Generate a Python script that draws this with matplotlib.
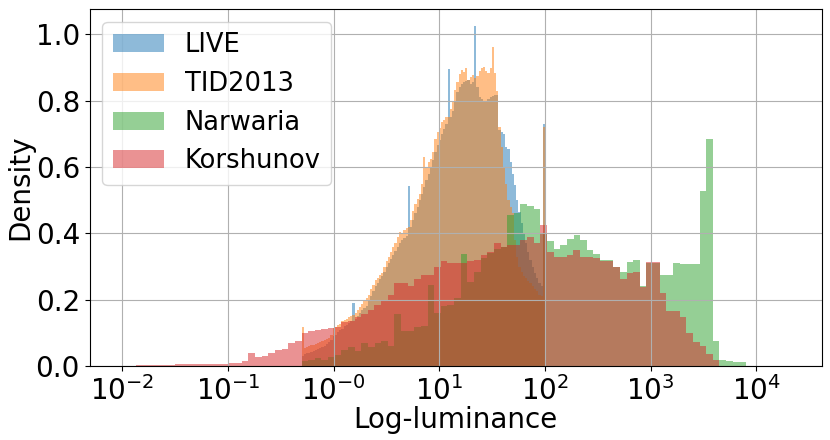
import numpy as np
import matplotlib
matplotlib.use("Agg")
import matplotlib.pyplot as plt

# log10-luminance ranges of each dataset's histogram
live_range = (-0.304, 2.0)
tid_range = (-0.304, 2.0)
nar_range = (-0.304, 3.903)
kor_range = (-2.0, 3.652)

live_density = [
    0.030, 0.035, 0.038, 0.040, 0.043, 0.045, 0.048, 0.050, 0.053, 0.058,
    0.062, 0.066, 0.072, 0.080, 0.090, 0.095, 0.102, 0.108, 0.112, 0.120,
    0.125, 0.130, 0.135, 0.190, 0.142, 0.150, 0.160, 0.168, 0.175, 0.182,
    0.195, 0.210, 0.225, 0.240, 0.250, 0.262, 0.272, 0.285, 0.298, 0.310,
    0.322, 0.335, 0.348, 0.360, 0.372, 0.380, 0.385, 0.392, 0.542, 0.420,
    0.440, 0.462, 0.480, 0.500, 0.520, 0.540, 0.560, 0.580, 0.600, 0.620,
    0.645, 0.665, 0.680, 0.700, 0.715, 0.730, 0.895, 0.750, 0.770, 0.800,
    0.825, 0.840, 0.850, 0.855, 0.860, 0.862, 0.850, 0.855, 1.026, 0.840,
    0.810, 0.805, 0.800, 0.800, 0.805, 0.810, 0.815, 0.817, 0.817, 0.711,
    0.705, 0.700, 0.660, 0.655, 0.616, 0.580, 0.545, 0.500, 0.465, 0.430,
    0.400, 0.370, 0.345, 0.320, 0.300, 0.280, 0.265, 0.250, 0.240, 0.730,
]

tid_density = [
    0.117, 0.055, 0.058, 0.060, 0.063, 0.065, 0.066, 0.070, 0.072, 0.075,
    0.078, 0.082, 0.086, 0.095, 0.115, 0.118, 0.125, 0.128, 0.135, 0.140,
    0.142, 0.148, 0.150, 0.155, 0.160, 0.168, 0.178, 0.186, 0.198, 0.205,
    0.215, 0.232, 0.245, 0.258, 0.265, 0.275, 0.282, 0.300, 0.318, 0.330,
    0.345, 0.360, 0.372, 0.390, 0.405, 0.400, 0.410, 0.415, 0.418, 0.440,
    0.468, 0.490, 0.505, 0.520, 0.548, 0.630, 0.600, 0.615, 0.625, 0.645,
    0.686, 0.705, 0.717, 0.735, 0.742, 0.750, 0.752, 0.774, 0.800, 0.832,
    0.857, 0.880, 0.893, 0.885, 0.898, 0.863, 0.870, 0.878, 0.868, 0.875,
    0.888, 0.898, 0.903, 0.890, 0.883, 0.900, 0.963, 0.883, 0.830, 0.720,
    0.660, 0.600, 0.550, 0.500, 0.480, 0.460, 0.380, 0.330, 0.300, 0.285,
    0.272, 0.265, 0.255, 0.250, 0.240, 0.232, 0.225, 0.215, 0.210, 0.720,
]

nar_density = [
    0.015, 0.019, 0.024, 0.019, 0.027, 0.032, 0.049, 0.057, 0.045, 0.070,
    0.057, 0.070, 0.077, 0.062, 0.156, 0.107, 0.107, 0.117, 0.122, 0.243,
    0.160, 0.180, 0.183, 0.204, 0.337, 0.253, 0.283, 0.325, 0.340, 0.352,
    0.360, 0.455, 0.460, 0.488, 0.482, 0.473, 0.400, 0.377, 0.354, 0.364,
    0.384, 0.396, 0.381, 0.350, 0.337, 0.321, 0.321, 0.300, 0.283, 0.313,
    0.319, 0.240, 0.310, 0.310, 0.276, 0.276, 0.310, 0.309, 0.307, 0.307,
    0.528, 0.684, 0.075, 0.019, 0.015, 0.011, 0.011,
]

kor_density = [
    0.001, 0.001, 0.002, 0.002, 0.002, 0.003,
    0.004, 0.004, 0.005, 0.006, 0.005, 0.006, 0.007, 0.006, 0.006, 0.007,
    0.008, 0.010, 0.014,
    0.040, 0.027, 0.030, 0.038, 0.047, 0.051, 0.069, 0.075,
    0.100, 0.105, 0.110, 0.112, 0.115, 0.119, 0.132, 0.135, 0.147, 0.158,
    0.170, 0.185, 0.195,
    0.213, 0.249, 0.249, 0.241, 0.261, 0.276, 0.276, 0.300, 0.317, 0.310,
    0.310, 0.310, 0.317, 0.320, 0.334,
    0.344, 0.371, 0.360, 0.364, 0.364, 0.380, 0.390, 0.370,
    0.424, 0.344, 0.330, 0.330, 0.335, 0.350, 0.330,
    0.329, 0.325, 0.317, 0.317, 0.300, 0.261, 0.280, 0.285, 0.238, 0.314,
    0.314, 0.220, 0.166, 0.166, 0.147, 0.100, 0.072, 0.062, 0.037, 0.019,
]

labels = ["LIVE", "TID2013", "Narwaria", "Korshunov"]
tick_pos = [-2, -1, 0, 1, 2, 3, 4]
tick_labels = ["$10^{-2}$", "$10^{-1}$", "$10^{-0}$", "$10^{1}$",
               "$10^{2}$", "$10^{3}$", "$10^{4}$"]

series = [(live_range, live_density), (tid_range, tid_density),
          (nar_range, nar_density), (kor_range, kor_density)]

fig = plt.figure(figsize=(8.3, 4.4), dpi=100)
ax = fig.add_axes([0.108, 0.168, 0.882, 0.812])

for (rng, dens), lab in zip(series, labels):
    edges = np.linspace(rng[0], rng[1], len(dens) + 1)
    centers = 0.5 * (edges[:-1] + edges[1:])
    ax.hist(centers, bins=edges, weights=dens, alpha=0.5, label=lab)

ax.set_xlim(-2.31, 4.62)
ax.set_ylim(0, 1.077)
ax.set_xticks(tick_pos)
ax.set_xticklabels(tick_labels)
ax.set_yticks([0.0, 0.2, 0.4, 0.6, 0.8, 1.0])
ax.tick_params(labelsize=20)
ax.set_xlabel("Log-luminance", fontsize=20, labelpad=0)
ax.set_ylabel("Density", fontsize=20, labelpad=1)
ax.grid(True)
ax.legend(loc="upper left", fontsize=18.5)

fig.savefig("out.png")
